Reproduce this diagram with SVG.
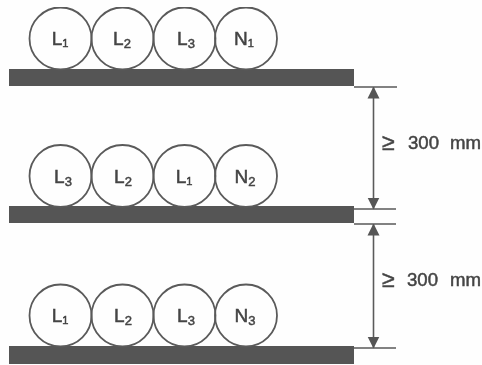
<svg xmlns="http://www.w3.org/2000/svg" width="482" height="365" viewBox="0 0 482 365">
<style>
.c{fill:none;stroke:#5a5a5a;stroke-width:1.8}
.b{fill:#555}
.t{font-family:"Liberation Sans",Arial,sans-serif;font-size:19px;fill:#444;stroke:#444;stroke-width:.5;text-anchor:middle}
.s{font-size:13px}
.o{font-size:11px}
.x{stroke:#5a5a5a;stroke-width:1.6;fill:none}
.d{stroke:#5a5a5a;stroke-width:1.6;fill:none;marker-start:url(#a);marker-end:url(#a)}
.m{font-family:"Liberation Sans",Arial,sans-serif;font-size:19px;fill:#444;stroke:#444;stroke-width:.5}
.g{font-size:23px}
#art{filter:url(#soft)}
</style>
<defs>
<marker id="a" viewBox="0 0 12 14" refX="11.5" refY="7" markerWidth="12" markerHeight="14" markerUnits="userSpaceOnUse" orient="auto-start-reverse">
<path d="M0 1 L12 7 L0 13 Z" fill="#555"/>
</marker>
<filter id="soft" x="0" y="0" width="100%" height="100%"><feGaussianBlur stdDeviation="0.55"/></filter>
</defs>
<rect width="482" height="365" fill="#fefefe"/>
<g id="art">
<g id="row1">
<rect id="bar1" class="b" x="9" y="69" width="345" height="17"/>
<g id="r1-L1"><circle class="c" cx="60.5" cy="38.5" r="31"/><text class="t" x="60" y="45">L<tspan class="o" dy="2">1</tspan></text></g>
<g id="r1-L2"><circle class="c" cx="122.5" cy="38.5" r="31"/><text class="t" x="122" y="45">L<tspan class="s" dy="3">2</tspan></text></g>
<g id="r1-L3"><circle class="c" cx="184.5" cy="38.5" r="31"/><text class="t" x="186" y="45">L<tspan class="s" dy="3">3</tspan></text></g>
<g id="r1-N1"><circle class="c" cx="246" cy="38.5" r="31"/><text class="t" x="244" y="45">N<tspan class="o" dy="2">1</tspan></text></g>
</g>
<g id="row2">
<rect id="bar2" class="b" x="9" y="206" width="345" height="17"/>
<g id="r2-L3"><circle class="c" cx="60.5" cy="176" r="31"/><text class="t" x="63" y="183">L<tspan class="s" dy="3">3</tspan></text></g>
<g id="r2-L2"><circle class="c" cx="122.5" cy="176" r="31"/><text class="t" x="123" y="183">L<tspan class="s" dy="3">2</tspan></text></g>
<g id="r2-L1"><circle class="c" cx="184.5" cy="176" r="31"/><text class="t" x="184" y="183">L<tspan class="o" dy="2">1</tspan></text></g>
<g id="r2-N2"><circle class="c" cx="246" cy="176" r="31"/><text class="t" x="245" y="183">N<tspan class="s" dy="3">2</tspan></text></g>
</g>
<g id="row3">
<rect id="bar3" class="b" x="9" y="346" width="345" height="18"/>
<g id="r3-L1"><circle class="c" cx="60.5" cy="315.5" r="31"/><text class="t" x="60" y="322">L<tspan class="o" dy="2">1</tspan></text></g>
<g id="r3-L2"><circle class="c" cx="122.5" cy="315.5" r="31"/><text class="t" x="123" y="322">L<tspan class="s" dy="3">2</tspan></text></g>
<g id="r3-L3"><circle class="c" cx="184.5" cy="315.5" r="31"/><text class="t" x="186" y="322">L<tspan class="s" dy="3">3</tspan></text></g>
<g id="r3-N3"><circle class="c" cx="246" cy="315.5" r="31"/><text class="t" x="245" y="322">N<tspan class="s" dy="3">3</tspan></text></g>
</g>
<g id="connectors">
<line class="x" x1="354" y1="87" x2="397" y2="87"/>
<line class="x" x1="354" y1="209" x2="396" y2="209"/>
<line class="x" x1="354" y1="224" x2="396" y2="224"/>
<line class="x" x1="354" y1="348" x2="396" y2="348"/>
<line class="d" x1="373.5" y1="87" x2="373.5" y2="209"/>
<line class="d" x1="373.5" y1="224" x2="373.5" y2="348"/>
</g>
<g id="labels">
<text class="m g" x="382" y="150">≥</text>
<text class="m" x="408" y="149" textLength="31" lengthAdjust="spacingAndGlyphs">300</text>
<text class="m" x="450" y="149" textLength="31" lengthAdjust="spacingAndGlyphs">mm</text>
<text class="m g" x="382" y="287">≥</text>
<text class="m" x="407" y="286" textLength="31" lengthAdjust="spacingAndGlyphs">300</text>
<text class="m" x="450" y="286" textLength="31" lengthAdjust="spacingAndGlyphs">mm</text>
</g>
</g>
</svg>
